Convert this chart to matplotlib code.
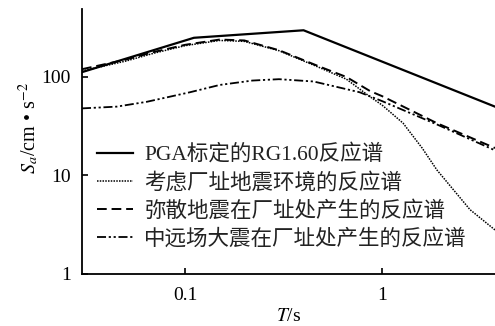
import matplotlib
matplotlib.use("Agg")
import matplotlib.pyplot as plt

# ---- data ----
T_rg = [0.03, 0.111, 0.4, 3.75]
S_rg = [112, 250, 298, 50]

T_site = [0.03, 0.05, 0.07, 0.1, 0.15, 0.2, 0.3, 0.48, 0.66, 0.87, 1.0, 1.28, 1.6, 1.9, 2.8, 3.75]
S_site = [115, 145, 175, 208, 235, 230, 185, 125, 95, 63, 52, 34, 19, 11.4, 4.5, 2.8]

T_diff = [0.03, 0.05, 0.07, 0.1, 0.15, 0.2, 0.3, 0.48, 0.66, 0.87, 1.0, 1.9, 3.75]
S_diff = [120, 150, 180, 212, 240, 235, 187, 128, 100, 72, 64, 34, 19]

T_far = [0.03, 0.045, 0.064, 0.106, 0.15, 0.22, 0.3, 0.45, 0.77, 1.0, 1.9, 3.75]
S_far = [48, 50, 56, 70, 83, 92, 95, 90, 70, 57, 33, 18]

labels = ["PGA标定的RG1.60反应谱",
          "考虑厂址地震环境的反应谱",
          "弥散地震在厂址处产生的反应谱",
          "中远场大震在厂址处产生的反应谱"]

xticks = [0.1, 1]
xticklabels = ["0.1", "1"]
yticks = [1, 10, 100]
yticklabels = ["1", "10", "100"]

plt.rcParams['font.family'] = ['Liberation Serif', 'Noto Sans CJK SC', 'DejaVu Sans']
plt.rcParams['mathtext.fontset'] = 'stix'

fig = plt.figure(figsize=(4.95, 3.26), dpi=100)
ax = fig.add_axes([82/495, 52/326, 413/495, 265/326])

ax.plot(T_rg, S_rg, color='black', lw=1.6, ls='-', label=labels[0])
ax.plot(T_site, S_site, color='black', lw=1.1, ls=(0, (1, 0.8)), label=labels[1])
ax.plot(T_diff, S_diff, color='black', lw=1.4, ls=(0, (5, 2.5)), label=labels[2])
ax.plot(T_far, S_far, color='black', lw=1.3, ls=(0, (5, 1.5, 1.2, 1.5, 1.2, 1.5)), label=labels[3])

ax.set_xscale('log')
ax.set_yscale('log')
ax.set_xlim(0.03, 3.75)
ax.set_ylim(1, 490)

ax.set_xticks(xticks)
ax.set_xticklabels(xticklabels)
ax.set_yticks(yticks)
ax.set_yticklabels(yticklabels)
ax.minorticks_off()
ax.tick_params(direction='in', length=4, width=1.2, labelsize=14, colors='black')
ax.tick_params(axis='x', pad=9)
ax.tick_params(axis='y', pad=8)

for s in ['top', 'right']:
    ax.spines[s].set_visible(False)
for s in ['left', 'bottom']:
    ax.spines[s].set_linewidth(1.3)

ax.set_xlabel(r'$T$/s', fontsize=14, labelpad=3)
ax.set_ylabel(r'$S_a$/cm • s$^{-2}$', fontsize=14.5)
ax.yaxis.set_label_coords(-0.10, 0.55)

leg = ax.legend(loc='upper left', bbox_to_anchor=(0.036, 0.49), frameon=False,
                fontsize=15.5, handlelength=1.7, handletextpad=0.5,
                labelspacing=0.35, borderaxespad=0, borderpad=0)
for t in leg.get_texts():
    t.set_color('#222222')

fig.savefig('out.png', dpi=100, facecolor='white')
